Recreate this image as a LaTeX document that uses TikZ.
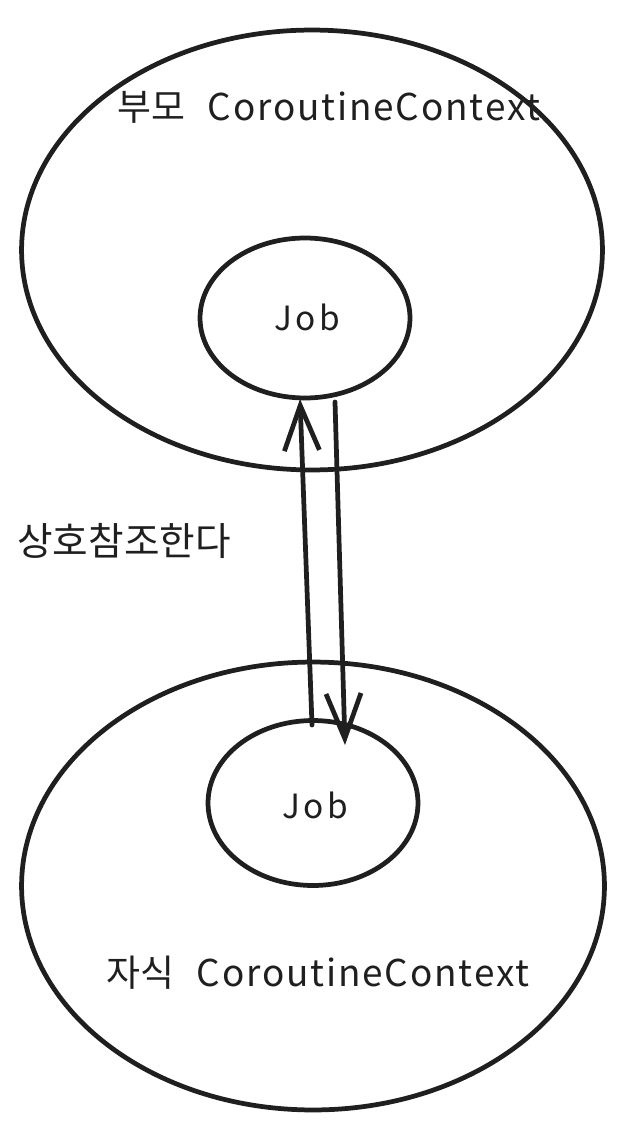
\documentclass[tikz,border=0pt]{standalone}
\usepackage{fontspec}
\setmainfont{Noto Sans CJK KR}
\newfontfamily\latwide[LetterSpace=5]{Noto Sans CJK KR}
\newfontfamily\jobwide[LetterSpace=10]{Noto Sans CJK KR}
\usetikzlibrary{shapes.geometric,arrows.meta}
\begin{document}
\begin{tikzpicture}[x=0.02cm,y=-0.02cm,
  outline/.style={draw=black!88,line width=2.7pt,ellipse,inner sep=0pt},
  lbl/.style={text=black!88,inner sep=0pt},
  link/.style={draw=black!88,line width=2.7pt,line cap=round,-{Straight Barb[length=9mm,width=7mm,line width=2.7pt]}}]
\useasboundingbox (0,0) rectangle (625,1135);
\node[outline,minimum width=11.62cm,minimum height=8.8cm] (parent) at (312,250) {};
\node[outline,minimum width=4.2cm,minimum height=3.2cm] (jobA) at (305,318) {};
\node[outline,minimum width=11.66cm,minimum height=8.96cm] (child) at (313,886) {};
\node[outline,minimum width=4.2cm,minimum height=3.3cm] (jobB) at (313,803) {};
\node[lbl,font=\fontsize{19}{22}\selectfont\jobwide] (jA) at (307,317) {Job};
\node[lbl,font=\fontsize{19}{22}\selectfont\jobwide] (jB) at (315,805) {Job};
\node[lbl,font=\fontsize{21}{22}\selectfont] (pl) at (329,107) {부모\hspace{0.6em}{\latwide CoroutineContext}};
\node[lbl,font=\fontsize{21}{22}\selectfont] (cl) at (318,973) {자식\hspace{0.6em}{\latwide CoroutineContext}};
\node[lbl,font=\fontsize{22}{24}\selectfont] (ref) at (124,541) {상호참조한다};
\coordinate (upS) at (312,725);
\coordinate (upE) at (300,399);
\coordinate (dnS) at (335,402);
\coordinate (dnE) at (345,745);
\draw[link] (upS) -- (upE);
\draw[link] (dnS) -- (dnE);
\end{tikzpicture}
\end{document}
